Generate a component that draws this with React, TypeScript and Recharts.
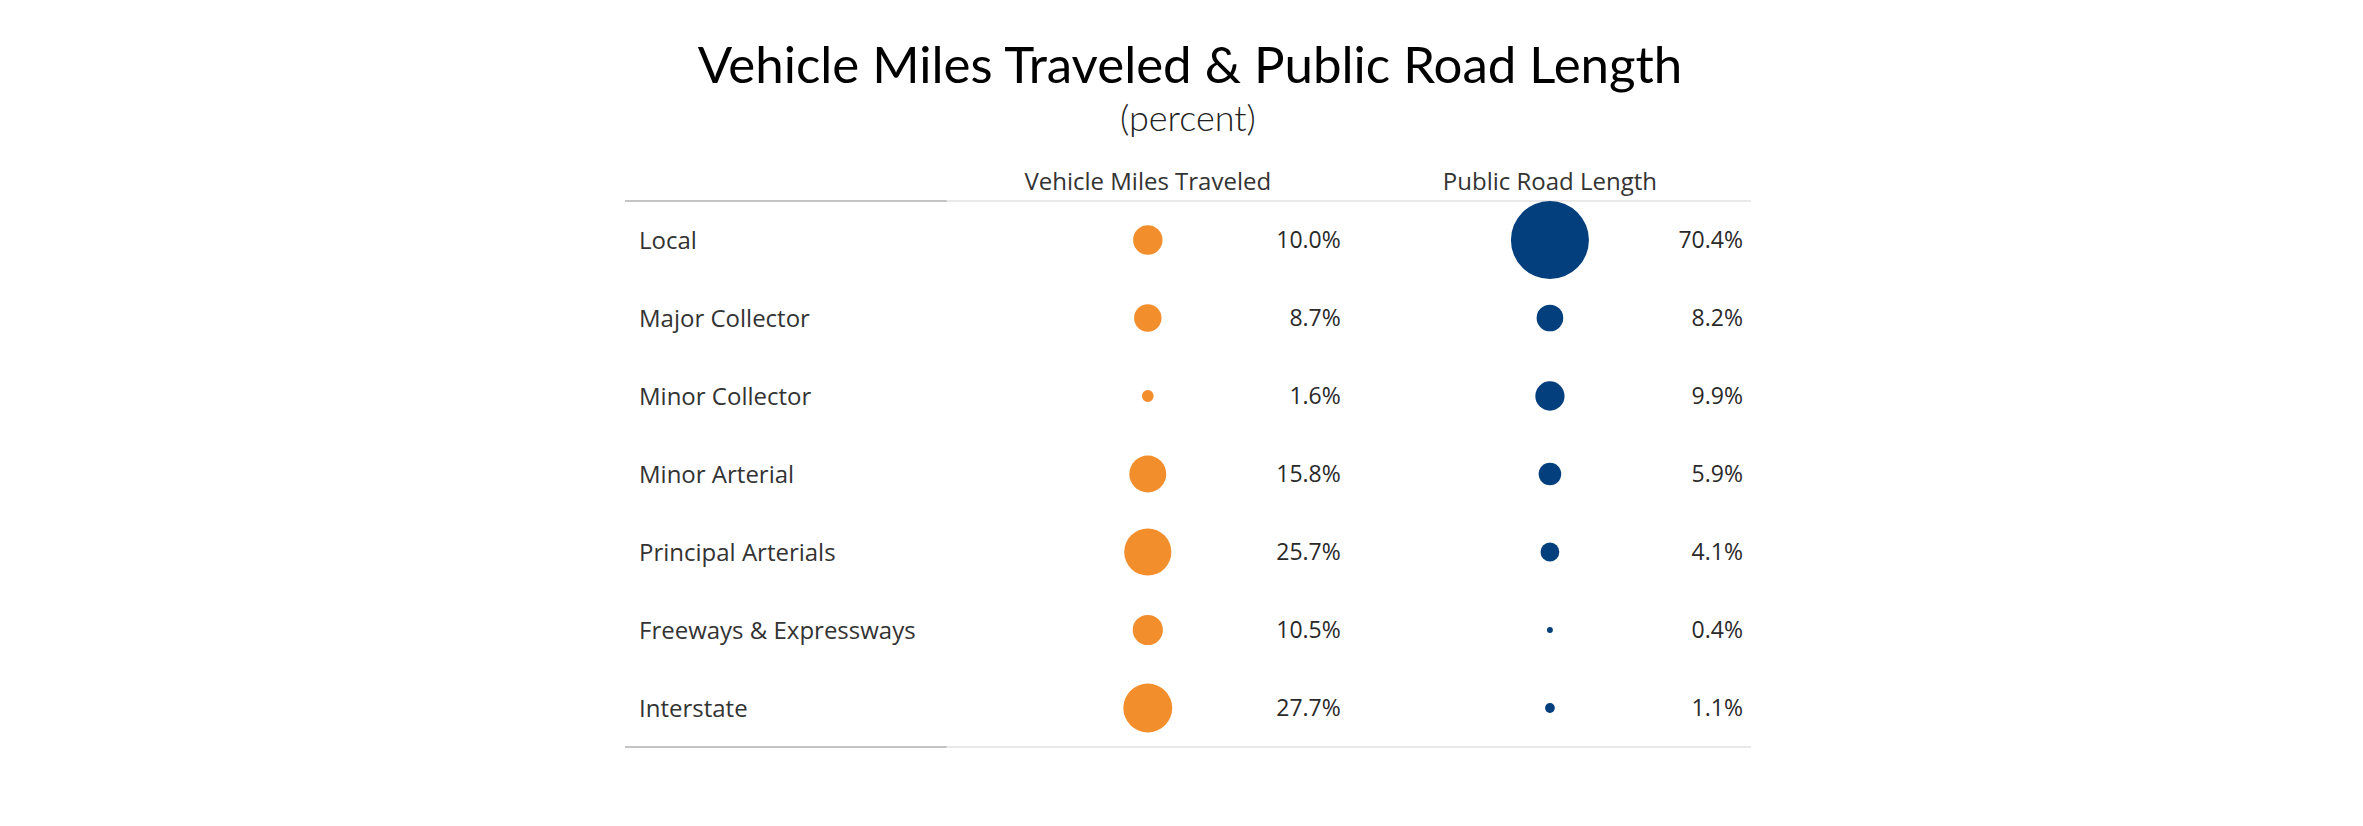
import { ScatterChart, Scatter, XAxis, YAxis, ZAxis, ReferenceLine, LabelList } from 'recharts';

const roadTypes = [
  'Local',
  'Major Collector',
  'Minor Collector',
  'Minor Arterial',
  'Principal Arterials',
  'Freeways & Expressways',
  'Interstate',
];
const vmtShare = [10.0, 8.7, 1.6, 15.8, 25.7, 10.5, 27.7];
const roadLengthShare = [70.4, 8.2, 9.9, 5.9, 4.1, 0.4, 1.1];
const columnNames = ['Vehicle Miles Traveled', 'Public Road Length'];
const rowTicks = roadTypes.map((_, i) => i);

const vmtData = roadTypes.map((name, i) => ({ col: 0, row: i, name, value: vmtShare[i] }));
const roadData = roadTypes.map((name, i) => ({ col: 1, row: i, name, value: roadLengthShare[i] }));

const TITLE_FONT = 'Lato, "Noto Sans", sans-serif';
const FONT = '"Open Sans", "Noto Sans", sans-serif';
const ORANGE = '#F28E2B';
const BLUE = '#023F7C';

// percent text sits right-aligned a fixed distance right of each bubble
const ValueLabel = (props: any) => {
  const vb = props.viewBox && props.viewBox.width !== undefined ? props.viewBox : props;
  const cx = vb.x + vb.width / 2;
  const cy = vb.y + vb.height / 2;
  return (
    <text x={cx + 193} y={cy} dy="0.35em" textAnchor="end" fill="#2a2a2a" fontSize={23} fontFamily={FONT}>
      {Number(props.value).toFixed(1)}%
    </text>
  );
};

export default function App() {
  return (
    <div style={{ position: 'absolute', left: 0, top: 0, width: 2363, height: 826, background: '#fff' }}>
      <svg width={2363} height={160} style={{ position: 'absolute', left: 0, top: 0 }}>
        <text x={1190} y={83} textAnchor="middle" fontSize={51} fontFamily={TITLE_FONT} fill="#000">
          Vehicle Miles Traveled &amp; Public Road Length
        </text>
        <text x={1188} y={131} textAnchor="middle" fontSize={36} fontWeight={300} fontFamily={TITLE_FONT} fill="#222">
          (percent)
        </text>
      </svg>
      <div style={{ position: 'absolute', left: 0, top: 0 }}>
        <ScatterChart width={2363} height={826} margin={{ top: 161, bottom: 79, left: 625, right: 612 }}>
          <XAxis
            dataKey="col"
            type="number"
            domain={[-1.3, 1.5]}
            orientation="top"
            ticks={[0, 1]}
            interval={0}
            tickFormatter={(v: number) => columnNames[v] ?? ''}
            axisLine={false}
            tickLine={false}
            tickSize={0}
            tickMargin={11}
            height={40}
            tick={{ fill: '#333', fontSize: 24, fontFamily: FONT }}
          />
          <YAxis
            dataKey="row"
            type="number"
            domain={[-0.5, 6.5]}
            reversed
            ticks={rowTicks}
            interval={0}
            tickFormatter={(v: number) => roadTypes[v] ?? ''}
            mirror
            width={400}
            axisLine={false}
            tickLine={false}
            tickSize={0}
            tickMargin={14}
            tick={{ fill: '#333', fontSize: 24, fontFamily: FONT, textAnchor: 'start' }}
          />
          <ZAxis dataKey="value" type="number" domain={[0, 100]} range={[0, 6790]} />
          <ReferenceLine y={-0.5} stroke="#d3d3d3" strokeWidth={1} />
          <ReferenceLine y={6.5} stroke="#d3d3d3" strokeWidth={1} />
          <ReferenceLine
            segment={[{ x: -1.3, y: -0.5 }, { x: -0.5, y: -0.5 }]}
            stroke="#c4c4c4"
            strokeWidth={2}
          />
          <ReferenceLine
            segment={[{ x: -1.3, y: 6.5 }, { x: -0.5, y: 6.5 }]}
            stroke="#c4c4c4"
            strokeWidth={2}
          />
          <Scatter data={vmtData} fill={ORANGE} isAnimationActive={false}>
            <LabelList dataKey="value" content={ValueLabel} />
          </Scatter>
          <Scatter data={roadData} fill={BLUE} isAnimationActive={false}>
            <LabelList dataKey="value" content={ValueLabel} />
          </Scatter>
        </ScatterChart>
      </div>
    </div>
  );
}
